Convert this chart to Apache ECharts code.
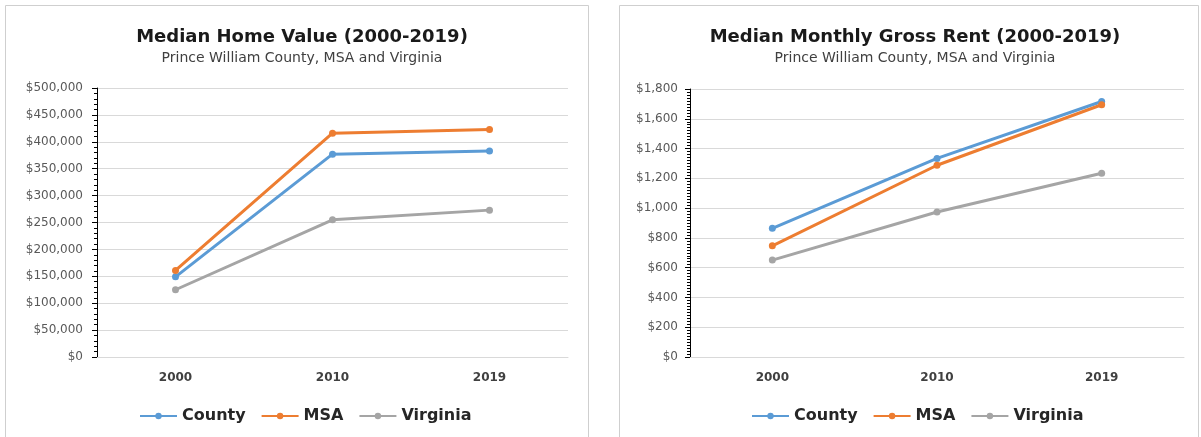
<!DOCTYPE html>
<html>
<head>
<meta charset="utf-8">
<script src="https://cdn.jsdelivr.net/npm/echarts@6/dist/echarts.min.js"></script>
<style>
  html, body { margin: 0; padding: 0; background: #fff; }
  #chart { width: 1201px; height: 437px; }
</style>
</head>
<body>
<div id="chart"></div>
<script>
// categories and values
const years = ["2000", "2010", "2019"];
const seriesNames = ["County", "MSA", "Virginia"];

const homeCounty = [149000, 377000, 383000];
const homeMSA = [161000, 416000, 423000];
const homeVirginia = [125000, 255000, 273000];

const rentCounty = [864, 1334, 1716];
const rentMSA = [747, 1288, 1694];
const rentVirginia = [651, 974, 1234];

const homeTicks = { min: 0, max: 500000, interval: 50000 };
const rentTicks = { min: 0, max: 1800, interval: 200 };

const colors = ["#5B9BD5", "#ED7D31", "#A5A5A5"];
const font = "DejaVu Sans";

function money(v) {
  return "$" + v.toLocaleString("en-US");
}

function yAxisOf(gridIndex, ticks, minorSplit, margin) {
  return {
    type: "value",
    gridIndex: gridIndex,
    min: ticks.min,
    max: ticks.max,
    interval: ticks.interval,
    axisLine: { show: true, lineStyle: { color: "#000", width: 1 } },
    axisTick: { show: true, length: 5, lineStyle: { color: "#000" } },
    minorTick: { show: true, splitNumber: minorSplit, length: 3, lineStyle: { color: "#000" } },
    axisLabel: {
      color: "#595959",
      fontFamily: font,
      fontSize: 12,
      margin: margin,
      formatter: money,
    },
    splitLine: { show: true, lineStyle: { color: "#d9d9d9", width: 1 } },
  };
}

function xAxisOf(gridIndex) {
  return {
    type: "category",
    gridIndex: gridIndex,
    data: years,
    boundaryGap: true,
    axisLine: { show: true, lineStyle: { color: "#d9d9d9" } },
    axisTick: { show: false },
    axisLabel: {
      color: "#404040",
      fontFamily: font,
      fontWeight: "bold",
      fontSize: 12,
      margin: 15,
    },
  };
}

function lineOf(name, data, idx, axisIdx) {
  return {
    name: name,
    type: "line",
    xAxisIndex: axisIdx,
    yAxisIndex: axisIdx,
    data: data,
    symbol: "circle",
    symbolSize: 7,
    lineStyle: { width: 3, color: colors[idx] },
    itemStyle: { color: colors[idx] },
  };
}

function legendOf(left) {
  return {
    left: left,
    top: 403,
    itemWidth: 37,
    itemHeight: 8,
    itemGap: 15,
    data: seriesNames,
    textStyle: { fontFamily: font, fontWeight: "bold", fontSize: 16, color: "#262626" },
  };
}

function titleOf(left, text) {
  return {
    text: text,
    subtext: "Prince William County, MSA and Virginia",
    left: left,
    top: 23,
    textAlign: "center",
    itemGap: 5,
    textStyle: { fontFamily: font, fontWeight: "bold", fontSize: 18, color: "#1a1a1a" },
    subtextStyle: { fontFamily: font, fontSize: 14, color: "#404040" },
  };
}

const option = {
  animation: false,
  color: colors,
  graphic: [
    { type: "rect", shape: { x: 5.5, y: 5.5, width: 583, height: 440 }, style: { fill: "none", stroke: "#cfcfcf", lineWidth: 1 }, silent: true },
    { type: "rect", shape: { x: 619.5, y: 5.5, width: 579, height: 440 }, style: { fill: "none", stroke: "#cfcfcf", lineWidth: 1 }, silent: true },
  ],
  title: [
    titleOf(297, "Median Home Value (2000-2019)"),
    titleOf(910, "Median Monthly Gross Rent (2000-2019)"),
  ],
  legend: [legendOf(134), legendOf(746)],
  grid: [
    { left: 97, right: 633, top: 88, bottom: 80 },
    { left: 690, right: 17, top: 89, bottom: 80 },
  ],
  xAxis: [xAxisOf(0), xAxisOf(1)],
  yAxis: [yAxisOf(0, homeTicks, 5, 14), yAxisOf(1, rentTicks, 10, 12)],
  series: [
    lineOf("County", homeCounty, 0, 0),
    lineOf("MSA", homeMSA, 1, 0),
    lineOf("Virginia", homeVirginia, 2, 0),
    lineOf("County", rentCounty, 0, 1),
    lineOf("MSA", rentMSA, 1, 1),
    lineOf("Virginia", rentVirginia, 2, 1),
  ],
};

const chartObj = echarts.init(document.getElementById("chart"));
chartObj.setOption(option);
</script>
</body>
</html>
